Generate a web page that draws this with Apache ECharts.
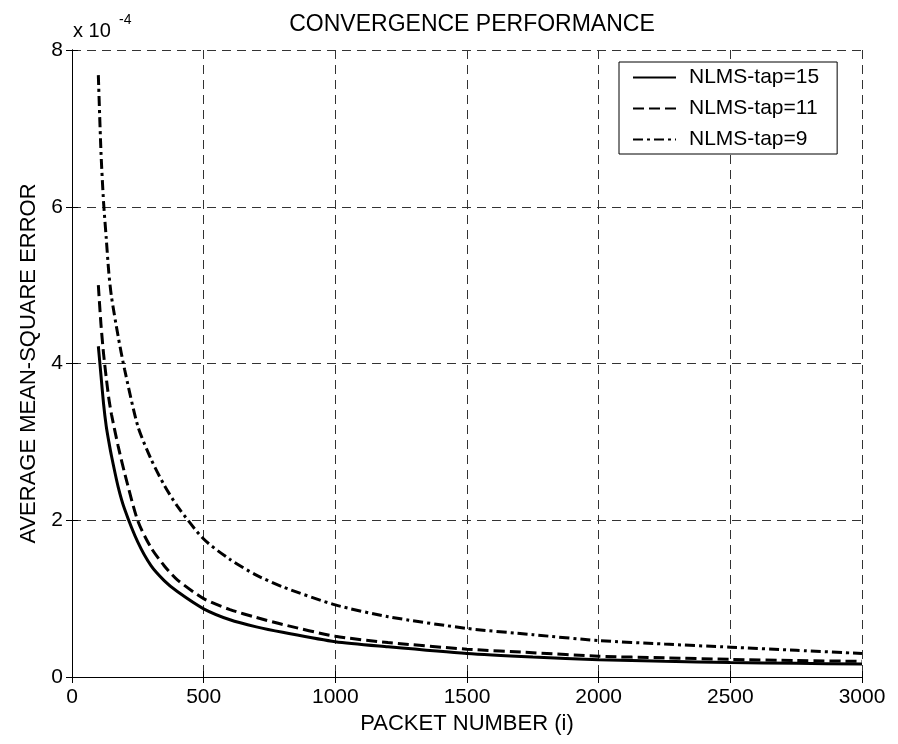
<!DOCTYPE html>
<html>
<head>
<meta charset="utf-8">
<script src="https://cdn.jsdelivr.net/npm/echarts@6/dist/echarts.min.js"></script>
<style>
html, body { margin: 0; padding: 0; background: #fff; }
#chart { width: 898px; height: 744px; }
</style>
</head>
<body>
<div id="chart"></div>
<script>
// packet index and error values (in units of 1e-4)
var packetX = [100, 110, 120, 130, 140, 150, 175, 200, 250, 300, 350, 400, 500, 600, 700, 800, 1000, 1200, 1500, 1750, 2000, 2250, 2500, 2750, 3000];
var tap15 = [4.22, 3.85, 3.48, 3.2, 3.0, 2.82, 2.43, 2.14, 1.72, 1.42, 1.23, 1.09, 0.87, 0.73, 0.64, 0.57, 0.45, 0.385, 0.30, 0.255, 0.22, 0.20, 0.185, 0.175, 0.165];
var tap11 = [5.0, 4.5, 4.12, 3.82, 3.55, 3.35, 2.95, 2.6, 1.99, 1.65, 1.42, 1.24, 1.0, 0.86, 0.76, 0.67, 0.52, 0.44, 0.355, 0.31, 0.265, 0.245, 0.225, 0.21, 0.20];
var tap9 = [7.68, 6.7, 6.05, 5.6, 5.15, 4.85, 4.35, 3.92, 3.2, 2.78, 2.45, 2.18, 1.76, 1.5, 1.3, 1.15, 0.92, 0.77, 0.62, 0.54, 0.465, 0.42, 0.38, 0.34, 0.30];
var names = ['NLMS-tap=15', 'NLMS-tap=11', 'NLMS-tap=9'];

function pairs(ys) {
	var out = [];
	for (var i = 0; i < packetX.length; i++) {
		out.push([packetX[i], ys[i]]);
	}
	return out;
}

var font = 'Liberation Sans, Arial, sans-serif';
var chart = echarts.init(document.getElementById('chart'));

var gridLine = { show: true, lineStyle: { color: '#333', width: 1, type: [9, 6] } };
var plain = function (v) { return String(v); };

var option = {
	backgroundColor: '#fff',
	animation: false,
	title: {
		text: 'CONVERGENCE PERFORMANCE',
		left: 467,
		textAlign: 'center',
		top: 8,
		textStyle: { fontFamily: font, fontSize: 23, fontWeight: 'normal', color: '#000' }
	},
	graphic: [{
		type: 'text',
		left: 73,
		top: 21,
		style: { text: 'x 10', fontFamily: font, fontSize: 20, fill: '#000' }
	}, {
		type: 'text',
		left: 119,
		top: 13,
		style: { text: '-4', fontFamily: font, fontSize: 14, fill: '#000' }
	}],
	legend: {
		left: 619,
		top: 62,
		orient: 'vertical',
		data: names,
		itemWidth: 43,
		itemHeight: 22,
		itemGap: 10,
		padding: [5, 18, 4, 13],
		borderColor: '#000',
		borderWidth: 1,
		backgroundColor: '#fff',
		itemStyle: { color: 'rgba(0,0,0,0)', borderWidth: 0 },
		textStyle: { fontFamily: font, fontSize: 21, color: '#000', width: 149, padding: [0, 0, 0, 8] }
	},
	grid: { left: 72, right: 36, top: 50, bottom: 67 },
	xAxis: [{
		type: 'value',
		min: 0,
		max: 3000,
		interval: 500,
		name: 'PACKET NUMBER (i)',
		nameLocation: 'middle',
		nameGap: 36,
		nameTextStyle: { fontFamily: font, fontSize: 22, color: '#000' },
		axisLine: { show: true, onZero: false, lineStyle: { color: '#000', width: 1 } },
		axisTick: { show: true, inside: true, length: 6, lineStyle: { color: '#000' } },
		axisLabel: { fontFamily: font, fontSize: 21, color: '#000', margin: 10, formatter: plain },
		splitLine: gridLine
	}, {
		type: 'value',
		position: 'top',
		min: 0,
		max: 3000,
		interval: 500,
		axisLine: { show: true, lineStyle: { color: '#000', width: 1 } },
		axisTick: { show: true, inside: true, length: 6, lineStyle: { color: '#000' } },
		axisLabel: { show: false },
		splitLine: { show: false }
	}],
	yAxis: [{
		type: 'value',
		min: 0,
		max: 8,
		interval: 2,
		name: 'AVERAGE MEAN-SQUARE ERROR',
		nameLocation: 'middle',
		nameGap: 30,
		nameTextStyle: { fontFamily: font, fontSize: 22, color: '#000' },
		axisLine: { show: true, onZero: false, lineStyle: { color: '#000', width: 1 } },
		axisTick: { show: true, inside: true, length: 6, lineStyle: { color: '#000' } },
		axisLabel: { fontFamily: font, fontSize: 21, color: '#000', margin: 9, formatter: plain },
		splitLine: gridLine
	}, {
		type: 'value',
		position: 'right',
		min: 0,
		max: 8,
		interval: 2,
		axisLine: { show: true, lineStyle: { color: '#000', width: 1 } },
		axisTick: { show: true, inside: true, length: 6, lineStyle: { color: '#000' } },
		axisLabel: { show: false },
		splitLine: { show: false }
	}],
	series: [{
		name: names[0],
		type: 'line',
		symbol: 'none',
		smooth: 0.25,
		data: pairs(tap15),
		lineStyle: { color: '#000', width: 3, type: 'solid' }
	}, {
		name: names[1],
		type: 'line',
		symbol: 'none',
		smooth: 0.25,
		data: pairs(tap11),
		lineStyle: { color: '#000', width: 3, type: [11, 5] }
	}, {
		name: names[2],
		type: 'line',
		symbol: 'none',
		smooth: 0.25,
		data: pairs(tap9),
		lineStyle: { color: '#000', width: 3, type: [10, 4, 3, 4] }
	}]
};
chart.setOption(option);
window.onresize = chart.resize;
</script>
</body>
</html>
